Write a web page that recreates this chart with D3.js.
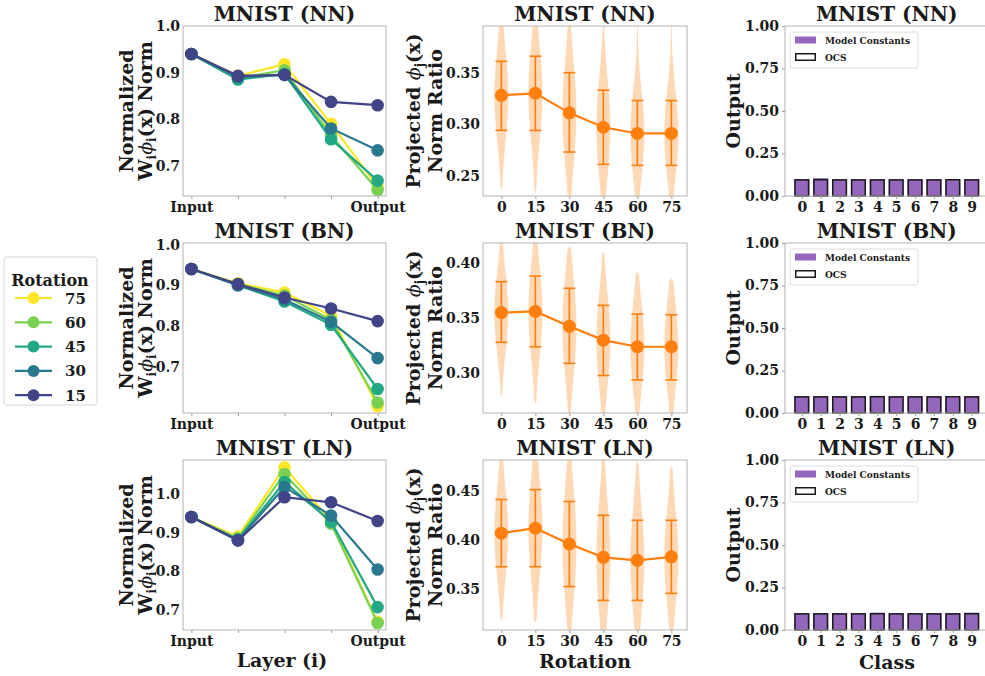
<!DOCTYPE html>
<html>
<head>
<meta charset="utf-8">
<script src="https://cdn.jsdelivr.net/npm/d3@7"></script>
<style>
  body { margin: 0; background: #fff; }
  svg text { font-family: "DejaVu Serif", serif; font-weight: bold; fill: #1a1a1a; }
</style>
</head>
<body>
<svg id="chart" width="985" height="676"></svg>
<script>
// ---------- data ----------
const rowNames = ["NN", "BN", "LN"];

// Left column: normalized W_i phi_i(x) norm per layer, one row per rotation
const layerLabels = ["Input", "", "", "", "Output"];
const rotations = [75, 60, 45, 30, 15];
const layerNormNN = [
  [0.940, 0.893, 0.918, 0.790, 0.655],
  [0.940, 0.888, 0.905, 0.765, 0.648],
  [0.940, 0.885, 0.897, 0.757, 0.668],
  [0.940, 0.890, 0.895, 0.780, 0.733],
  [0.940, 0.893, 0.895, 0.837, 0.830]
];
const layerNormBN = [
  [0.940, 0.905, 0.882, 0.825, 0.603],
  [0.940, 0.903, 0.875, 0.815, 0.612],
  [0.940, 0.900, 0.860, 0.803, 0.645],
  [0.940, 0.900, 0.865, 0.810, 0.721],
  [0.940, 0.903, 0.870, 0.843, 0.812]
];
const layerNormLN = [
  [0.940, 0.890, 1.068, 0.930, 0.670],
  [0.940, 0.885, 1.051, 0.923, 0.667],
  [0.940, 0.882, 1.030, 0.928, 0.708],
  [0.940, 0.880, 1.017, 0.944, 0.805],
  [0.940, 0.880, 0.991, 0.978, 0.930]
];

// Middle column: projected phi_j(x) norm ratio vs rotation
const rotationTicks = [0, 15, 30, 45, 60, 75];
const ratioMeanNN = [0.328, 0.330, 0.311, 0.297, 0.291, 0.291];
const ratioErrLoNN = [0.294, 0.294, 0.273, 0.261, 0.260, 0.260];
const ratioErrHiNN = [0.361, 0.366, 0.350, 0.333, 0.323, 0.323];
const violinLoNN = [0.236, 0.233, 0.228, 0.225, 0.225, 0.225];
const violinHiNN = [0.420, 0.420, 0.410, 0.400, 0.400, 0.400];

const ratioMeanBN = [0.355, 0.356, 0.3425, 0.330, 0.324, 0.324];
const ratioErrLoBN = [0.328, 0.324, 0.309, 0.298, 0.294, 0.294];
const ratioErrHiBN = [0.383, 0.388, 0.377, 0.3615, 0.3536, 0.353];
const violinLoBN = [0.278, 0.272, 0.262, 0.258, 0.255, 0.255];
const violinHiBN = [0.425, 0.425, 0.415, 0.410, 0.392, 0.386];

const ratioMeanLN = [0.407, 0.412, 0.396, 0.3825, 0.3795, 0.383];
const ratioErrLoLN = [0.373, 0.373, 0.353, 0.339, 0.339, 0.346];
const ratioErrHiLN = [0.441, 0.451, 0.439, 0.425, 0.420, 0.420];
const violinLoLN = [0.318, 0.316, 0.305, 0.300, 0.300, 0.305];
const violinHiLN = [0.500, 0.500, 0.490, 0.485, 0.480, 0.475];

// Right column: per-class output
const classLabels = ["0", "1", "2", "3", "4", "5", "6", "7", "8", "9"];
const modelConstNN = [0.100, 0.105, 0.100, 0.100, 0.100, 0.100, 0.100, 0.100, 0.097, 0.100];
const ocsNN        = [0.099, 0.100, 0.099, 0.099, 0.099, 0.099, 0.099, 0.099, 0.100, 0.099];
const modelConstBN = [0.100, 0.100, 0.100, 0.100, 0.101, 0.100, 0.100, 0.100, 0.097, 0.100];
const ocsBN        = [0.099, 0.099, 0.099, 0.099, 0.100, 0.099, 0.099, 0.099, 0.100, 0.099];
const modelConstLN = [0.100, 0.100, 0.100, 0.100, 0.102, 0.100, 0.100, 0.100, 0.100, 0.102];
const ocsLN        = [0.099, 0.099, 0.099, 0.099, 0.100, 0.099, 0.099, 0.099, 0.099, 0.100];
const outputTicks = [0, 0.25, 0.5, 0.75, 1.0];

// ---------- layout & style ----------
const svg = d3.select("#chart");
const rowTop = [26, 243, 460];
const panelH = 170;
const col = { left: [183, 386], mid: [483, 687], right: [785, 988.5] };
const frameColor = "#b3b3b3";
const tickColor = "#9a9a9a";
const orange = "#ff7f0e";
const purple = "#9467bd";
const tickFont = 14;
const labelFont = 19;
const rotColor = r => d3.interpolateViridis(r / 75);

const rows = [
  { norm: layerNormNN, normDom: [0.635, 1.0], mean: ratioMeanNN, lo: ratioErrLoNN, hi: ratioErrHiNN,
    vlo: violinLoNN, vhi: violinHiNN, ratioDom: [0.2303, 0.3953], ratioTicks: [0.25, 0.30, 0.35],
    mc: modelConstNN, ocs: ocsNN },
  { norm: layerNormBN, normDom: [0.586, 1.004], mean: ratioMeanBN, lo: ratioErrLoBN, hi: ratioErrHiBN,
    vlo: violinLoBN, vhi: violinHiBN, ratioDom: [0.264, 0.418], ratioTicks: [0.30, 0.35, 0.40],
    mc: modelConstBN, ocs: ocsBN },
  { norm: layerNormLN, normDom: [0.649, 1.087], mean: ratioMeanLN, lo: ratioErrLoLN, hi: ratioErrHiLN,
    vlo: violinLoLN, vhi: violinHiLN, ratioDom: [0.309, 0.481], ratioTicks: [0.35, 0.40, 0.45],
    mc: modelConstLN, ocs: ocsLN }
];

function styleAxis(g) {
  g.select(".domain").remove();
  g.selectAll(".tick line").attr("stroke", tickColor);
  g.selectAll(".tick text").attr("font-size", tickFont).attr("fill", "#1a1a1a")
    .attr("font-family", "DejaVu Serif").attr("font-weight", "bold");
}

function frame(x0, x1, top) {
  svg.append("rect").attr("x", x0).attr("y", top).attr("width", x1 - x0).attr("height", panelH)
    .attr("fill", "none").attr("stroke", frameColor).attr("stroke-width", 1);
}

function title(x0, x1, top, name) {
  svg.append("text").attr("x", (x0 + x1) / 2).attr("y", top - 5.5).attr("text-anchor", "middle")
    .attr("font-size", 20).text(`MNIST (${name})`);
}

function clip(id, x0, x1, top) {
  svg.append("clipPath").attr("id", id).append("rect")
    .attr("x", x0).attr("y", top).attr("width", x1 - x0).attr("height", panelH);
}

rows.forEach((row, ri) => {
  const top = rowTop[ri], bot = top + panelH;
  const cy = top + panelH / 2;

  // ----- left: layer norms -----
  {
    const [x0, x1] = col.left;
    const x = d3.scaleLinear().domain([-0.18, 4.18]).range([x0, x1]);
    const y = d3.scaleLinear().domain(row.normDom).range([bot, top]);
    clip(`cl${ri}`, x0, x1, top);
    const g = svg.append("g").attr("clip-path", `url(#cl${ri})`);
    const line = d3.line().x((d, i) => x(i)).y(d => y(d));
    row.norm.forEach((vals, k) => {
      const c = rotColor(rotations[k]);
      g.append("path").datum(vals).attr("d", line).attr("fill", "none")
        .attr("stroke", c).attr("stroke-width", 2.2);
      g.selectAll(null).data(vals).enter().append("circle")
        .attr("cx", (d, i) => x(i)).attr("cy", d => y(d)).attr("r", 6.3).attr("fill", c);
    });
    svg.append("g").attr("transform", `translate(0,${bot})`)
      .call(d3.axisBottom(x).tickValues(d3.range(5)).tickFormat(i => layerLabels[i]).tickSize(3).tickPadding(3))
      .call(styleAxis);
    svg.append("g").attr("transform", `translate(${x0},0)`)
      .call(d3.axisLeft(y).tickValues([0.7, 0.8, 0.9, 1.0]).tickFormat(d3.format(".1f")).tickSize(0).tickPadding(3))
      .call(styleAxis);
    frame(x0, x1, top);
    title(x0, x1, top, rowNames[ri]);

    // y label (two lines)
    svg.append("text").attr("transform", `translate(133,${cy}) rotate(-90)`)
      .attr("text-anchor", "middle").attr("font-size", labelFont).text("Normalized");
    const t2 = svg.append("text").attr("transform", `translate(152,${cy}) rotate(-90)`)
      .attr("text-anchor", "middle").attr("font-size", labelFont);
    t2.append("tspan").text("W");
    t2.append("tspan").attr("font-size", 12).attr("dy", 4).text("i");
    t2.append("tspan").attr("dy", -4).attr("font-style", "italic").attr("font-weight", "normal").text("ϕ");
    t2.append("tspan").attr("font-size", 12).attr("dy", 4).text("i");
    t2.append("tspan").attr("dy", -4).text("(x) Norm");
  }

  // ----- middle: norm ratio violins -----
  {
    const [x0, x1] = col.mid;
    const x = d3.scaleLinear().domain([-8.1, 81.9]).range([x0, x1]);
    const y = d3.scaleLinear().domain(row.ratioDom).range([bot, top]);
    clip(`cm${ri}`, x0, x1, top);
    const g = svg.append("g").attr("clip-path", `url(#cm${ri})`);
    const halfW = 7;
    rotationTicks.forEach((r, i) => {
      const m = row.mean[i];
      const s = (row.hi[i] - row.lo[i]) / 2 * 1.3;
      const ys = d3.range(61).map(k => row.vlo[i] + (row.vhi[i] - row.vlo[i]) * k / 60);
      const prof = ys.map(v => ({ v, w: halfW * Math.exp(-0.5 * ((v - m) / s) ** 2) }));
      prof[0].w = 0; prof[prof.length - 1].w = 0;
      const area = d3.area().curve(d3.curveBasis)
        .y(d => y(d.v)).x0(d => x(r) - d.w).x1(d => x(r) + d.w);
      g.append("path").datum(prof).attr("d", area).attr("fill", orange).attr("fill-opacity", 0.3);
    });
    // error bars
    rotationTicks.forEach((r, i) => {
      const cx = x(r);
      g.append("line").attr("x1", cx).attr("x2", cx).attr("y1", y(row.lo[i])).attr("y2", y(row.hi[i]))
        .attr("stroke", orange).attr("stroke-width", 1.6);
      [row.lo[i], row.hi[i]].forEach(v => {
        g.append("line").attr("x1", cx - 6).attr("x2", cx + 6).attr("y1", y(v)).attr("y2", y(v))
          .attr("stroke", orange).attr("stroke-width", 1.6);
      });
    });
    g.append("path").datum(row.mean)
      .attr("d", d3.line().x((d, i) => x(rotationTicks[i])).y(d => y(d)))
      .attr("fill", "none").attr("stroke", orange).attr("stroke-width", 2.2);
    g.selectAll(null).data(row.mean).enter().append("circle")
      .attr("cx", (d, i) => x(rotationTicks[i])).attr("cy", d => y(d)).attr("r", 6.5).attr("fill", orange);

    svg.append("g").attr("transform", `translate(0,${bot})`)
      .call(d3.axisBottom(x).tickValues(rotationTicks).tickFormat(d3.format("d")).tickSize(3).tickPadding(3))
      .call(styleAxis);
    svg.append("g").attr("transform", `translate(${x0},0)`)
      .call(d3.axisLeft(y).tickValues(row.ratioTicks).tickFormat(d3.format(".2f")).tickSize(0).tickPadding(3))
      .call(styleAxis);
    frame(x0, x1, top);
    title(x0, x1, top, rowNames[ri]);

    const t1 = svg.append("text").attr("transform", `translate(420,${cy}) rotate(-90)`)
      .attr("text-anchor", "middle").attr("font-size", labelFont);
    t1.append("tspan").text("Projected ");
    t1.append("tspan").attr("font-style", "italic").attr("font-weight", "normal").text("ϕ");
    t1.append("tspan").attr("font-size", 12).attr("dy", 4).text("j");
    t1.append("tspan").attr("dy", -4).text("(x)");
    svg.append("text").attr("transform", `translate(442,${cy}) rotate(-90)`)
      .attr("text-anchor", "middle").attr("font-size", labelFont).text("Norm Ratio");
  }

  // ----- right: class outputs -----
  {
    const [x0, x1] = col.right;
    const x = d3.scaleLinear().domain([-0.89, 9.89]).range([x0, x1]);
    const y = d3.scaleLinear().domain([0, 1]).range([bot, top]);
    const bw = x(0.8) - x(0);
    svg.selectAll(null).data(row.mc).enter().append("rect")
      .attr("x", (d, i) => x(i) - bw / 2).attr("width", bw)
      .attr("y", d => y(d)).attr("height", d => y(0) - y(d)).attr("fill", purple);
    svg.selectAll(null).data(row.ocs).enter().append("rect")
      .attr("x", (d, i) => x(i) - bw / 2 + 0.75).attr("width", bw - 1.5)
      .attr("y", d => y(d) + 0.75).attr("height", d => y(0) - y(d) - 0.75)
      .attr("fill", "none").attr("stroke", "#1a1a1a").attr("stroke-width", 1.5);

    svg.append("g").attr("transform", `translate(0,${bot})`)
      .call(d3.axisBottom(x).tickValues(d3.range(10)).tickFormat(i => classLabels[i]).tickSize(3).tickPadding(3))
      .call(styleAxis);
    svg.append("g").attr("transform", `translate(${x0},0)`)
      .call(d3.axisLeft(y).tickValues(outputTicks).tickFormat(d3.format(".2f")).tickSize(3).tickPadding(3))
      .call(styleAxis);
    frame(x0, x1, top);
    title(x0, x1, top, rowNames[ri]);

    svg.append("text").attr("transform", `translate(740,${cy}) rotate(-90)`)
      .attr("text-anchor", "middle").attr("font-size", labelFont).text("Output");

    // legend
    const lg = svg.append("g");
    lg.append("rect").attr("x", 790).attr("y", top + 6).attr("width", 128).attr("height", 36).attr("rx", 2)
      .attr("fill", "#fff").attr("fill-opacity", 0.8).attr("stroke", "#dedede");
    lg.append("rect").attr("x", 795).attr("y", top + 10.5).attr("width", 21).attr("height", 7).attr("fill", purple);
    lg.append("text").attr("x", 825).attr("y", top + 17.5).attr("font-size", 9).text("Model Constants");
    lg.append("rect").attr("x", 795.75).attr("y", top + 27.75).attr("width", 19.5).attr("height", 6.5)
      .attr("fill", "none").attr("stroke", "#1a1a1a").attr("stroke-width", 1.5);
    lg.append("text").attr("x", 825).attr("y", top + 34.5).attr("font-size", 9).text("OCS");
  }
});

// column axis labels
svg.append("text").attr("x", 282).attr("y", 667).attr("text-anchor", "middle").attr("font-size", labelFont).text("Layer (i)");
svg.append("text").attr("x", 585).attr("y", 668).attr("text-anchor", "middle").attr("font-size", labelFont).text("Rotation");
svg.append("text").attr("x", 887).attr("y", 669).attr("text-anchor", "middle").attr("font-size", labelFont).text("Class");

// rotation legend
const leg = svg.append("g");
leg.append("rect").attr("x", 4).attr("y", 257).attr("width", 93).attr("height", 148).attr("rx", 3)
  .attr("fill", "#fff").attr("stroke", "#d6d6d6");
leg.append("text").attr("x", 50).attr("y", 286).attr("text-anchor", "middle").attr("font-size", 16).text("Rotation");
rotations.forEach((r, i) => {
  const ly = 298 + i * 24.3;
  leg.append("line").attr("x1", 15).attr("x2", 52).attr("y1", ly).attr("y2", ly)
    .attr("stroke", rotColor(r)).attr("stroke-width", 2.2);
  leg.append("circle").attr("cx", 33.5).attr("cy", ly).attr("r", 6).attr("fill", rotColor(r));
  leg.append("text").attr("x", 65).attr("y", ly + 5.5).attr("font-size", 15).text(r);
});
</script>
</body>
</html>
